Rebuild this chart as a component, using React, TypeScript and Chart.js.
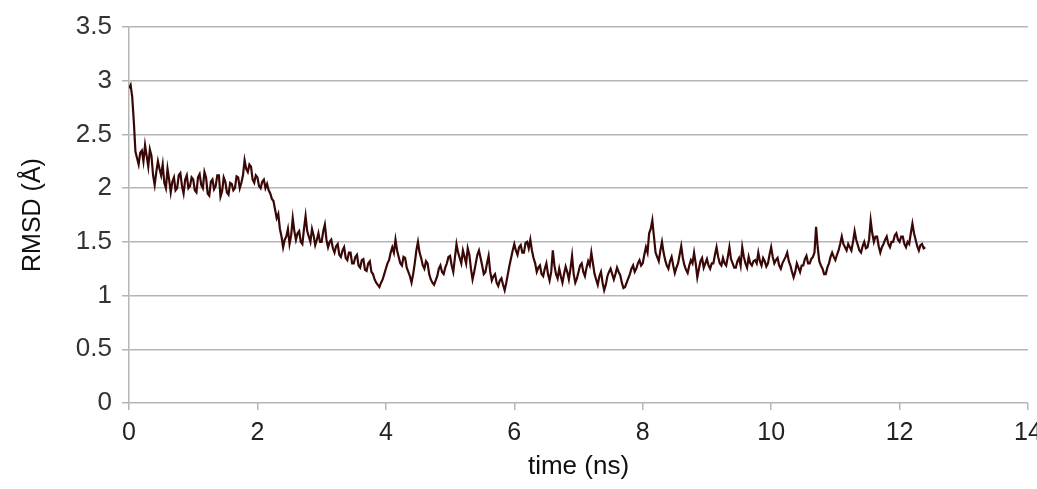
import React, { useEffect, useRef } from "react";
import { Chart, registerables } from "chart.js";

Chart.register(...registerables);

// sampling step of the trajectory (ns)
const timeStep = 0.025;

// RMSD (Å), 40 samples per ns; each chunk starts at the given time
const rmsd0to1 = [
  2.93, 2.96, 2.85, 2.62, 2.34, 2.28, 2.22, 2.33, 2.35, 2.25,
  2.40, 2.30, 2.20, 2.36, 2.30, 2.12, 2.03, 2.15, 2.25, 2.18,
  2.12, 2.22, 2.05, 2.00, 2.18, 2.08, 1.96, 2.06, 2.10, 1.98,
  2.00, 2.12, 2.14, 2.02, 1.95, 2.08, 2.12, 2.00, 2.02, 2.10,
];
const rmsd1to2 = [
  2.08, 1.98, 1.96, 2.10, 2.13, 2.03, 2.00, 2.15, 2.10, 1.95,
  1.93, 2.06, 2.08, 1.99, 2.02, 2.12, 2.12, 1.92, 1.97, 2.10,
  2.06, 1.96, 1.94, 2.05, 2.04, 1.98, 2.00, 2.11, 2.10, 2.00,
  2.05, 2.12, 2.26, 2.18, 2.15, 2.22, 2.20, 2.08, 2.05, 2.12,
];
const rmsd2to3 = [
  2.10, 2.02, 2.00, 2.06, 2.08, 2.00, 2.04, 1.98, 1.95, 1.90,
  1.88, 1.80, 1.72, 1.76, 1.62, 1.55, 1.45, 1.52, 1.55, 1.62,
  1.48, 1.56, 1.72, 1.60, 1.52, 1.58, 1.60, 1.50, 1.48, 1.62,
  1.74, 1.60, 1.55, 1.50, 1.62, 1.56, 1.47, 1.52, 1.58, 1.50,
];
const rmsd3to4 = [
  1.50, 1.60, 1.66, 1.52, 1.45, 1.50, 1.52, 1.44, 1.40, 1.46,
  1.48, 1.38, 1.36, 1.42, 1.45, 1.35, 1.33, 1.40, 1.40, 1.30,
  1.30, 1.36, 1.38, 1.28, 1.26, 1.33, 1.34, 1.24, 1.23, 1.30,
  1.32, 1.22, 1.20, 1.15, 1.12, 1.10, 1.08, 1.12, 1.15, 1.20,
];
const rmsd4to5 = [
  1.25, 1.30, 1.33, 1.40, 1.45, 1.40, 1.52, 1.42, 1.36, 1.30,
  1.28, 1.36, 1.35, 1.26, 1.22, 1.18, 1.12, 1.20, 1.30, 1.42,
  1.50, 1.40, 1.35, 1.28, 1.25, 1.32, 1.30, 1.20, 1.15, 1.12,
  1.10, 1.14, 1.18, 1.25, 1.28, 1.22, 1.20, 1.26, 1.30, 1.36,
];
const rmsd5to6 = [
  1.37, 1.28, 1.22, 1.35, 1.48, 1.40, 1.35, 1.30, 1.42, 1.36,
  1.30, 1.44, 1.38, 1.25, 1.15, 1.22, 1.30, 1.38, 1.42, 1.35,
  1.28, 1.20, 1.22, 1.30, 1.37, 1.22, 1.14, 1.18, 1.20, 1.12,
  1.09, 1.14, 1.16, 1.10, 1.05, 1.12, 1.20, 1.28, 1.35, 1.42,
];
const rmsd6to7 = [
  1.48, 1.42, 1.38, 1.45, 1.47, 1.40, 1.40, 1.49, 1.50, 1.44,
  1.52, 1.42, 1.35, 1.30, 1.22, 1.26, 1.28, 1.20, 1.18, 1.25,
  1.30, 1.20, 1.14, 1.22, 1.42, 1.28, 1.20, 1.16, 1.25, 1.18,
  1.12, 1.20, 1.27, 1.22, 1.15, 1.25, 1.37, 1.20, 1.12, 1.16,
];
const rmsd7to8 = [
  1.22, 1.28, 1.30, 1.22, 1.18, 1.26, 1.32, 1.28, 1.40, 1.30,
  1.20, 1.15, 1.10, 1.18, 1.22, 1.12, 1.05, 1.10, 1.18, 1.22,
  1.25, 1.20, 1.15, 1.20, 1.26, 1.22, 1.19, 1.12, 1.07, 1.08,
  1.12, 1.16, 1.20, 1.25, 1.28, 1.22, 1.25, 1.30, 1.33, 1.28,
];
const rmsd8to9 = [
  1.30, 1.38, 1.45, 1.40, 1.58, 1.62, 1.70, 1.55, 1.40, 1.36,
  1.32, 1.42, 1.50, 1.40, 1.33, 1.28, 1.25, 1.32, 1.36, 1.28,
  1.21, 1.26, 1.30, 1.38, 1.46, 1.35, 1.28, 1.24, 1.21, 1.28,
  1.33, 1.30, 1.40, 1.30, 1.17, 1.25, 1.32, 1.35, 1.26, 1.30,
];
const rmsd9to10 = [
  1.34, 1.28, 1.25, 1.30, 1.30, 1.38, 1.45, 1.36, 1.30, 1.28,
  1.35, 1.30, 1.28, 1.36, 1.45, 1.34, 1.30, 1.26, 1.26, 1.32,
  1.35, 1.28, 1.45, 1.36, 1.30, 1.26, 1.36, 1.30, 1.28, 1.32,
  1.33, 1.30, 1.40, 1.32, 1.28, 1.35, 1.32, 1.27, 1.30, 1.38,
];
const rmsd10to11 = [
  1.45, 1.36, 1.30, 1.33, 1.35, 1.28, 1.25, 1.30, 1.33, 1.36,
  1.40, 1.32, 1.28, 1.22, 1.17, 1.22, 1.30, 1.26, 1.22, 1.28,
  1.28, 1.34, 1.37, 1.30, 1.30, 1.34, 1.36, 1.40, 1.64, 1.45,
  1.32, 1.28, 1.25, 1.20, 1.20, 1.26, 1.30, 1.36, 1.40, 1.36,
];
const rmsd11to12 = [
  1.33, 1.38, 1.42, 1.48, 1.55, 1.48, 1.45, 1.42, 1.48, 1.45,
  1.42, 1.50, 1.60, 1.52, 1.47, 1.42, 1.40, 1.46, 1.50, 1.44,
  1.45, 1.52, 1.70, 1.58, 1.50, 1.55, 1.55, 1.46, 1.40, 1.45,
  1.48, 1.52, 1.55, 1.48, 1.45, 1.50, 1.50, 1.56, 1.58, 1.52,
];
const rmsd12toEnd = [
  1.50, 1.55, 1.55, 1.48, 1.45, 1.50, 1.48, 1.58, 1.67, 1.58,
  1.52, 1.46, 1.42, 1.47, 1.48, 1.44, 1.45,
];

const chunks: [number, number[]][] = [
  [0, rmsd0to1], [1, rmsd1to2], [2, rmsd2to3], [3, rmsd3to4], [4, rmsd4to5],
  [5, rmsd5to6], [6, rmsd6to7], [7, rmsd7to8], [8, rmsd8to9], [9, rmsd9to10],
  [10, rmsd10to11], [11, rmsd11to12], [12, rmsd12toEnd],
];

const xTitle = "time (ns)";
const yTitle = "RMSD (Å)";

export default function App() {
  const ref = useRef<HTMLCanvasElement | null>(null);

  useEffect(() => {
    if (!ref.current) return;
    const points: { x: number; y: number }[] = [];
    chunks.forEach(([start, vals]) => {
      vals.forEach((v, j) => points.push({ x: +(start + j * timeStep).toFixed(3), y: v }));
    });
    const font = "'Liberation Sans', Arial, sans-serif";
    const chart = new Chart(ref.current, {
      type: "line",
      data: {
        datasets: [
          {
            data: points,
            borderColor: "#3a0707",
            borderWidth: 2.2,
            pointRadius: 0,
            tension: 0,
          },
        ],
      },
      options: {
        animation: false,
        responsive: false,
        maintainAspectRatio: false,
        layout: { padding: { left: 0, right: 9, top: 27, bottom: 0 } },
        plugins: { legend: { display: false }, tooltip: { enabled: false } },
        scales: {
          x: {
            type: "linear",
            min: 0,
            max: 14,
            ticks: { stepSize: 2, color: "#222", font: { family: font, size: 25 }, padding: 8, maxRotation: 0 },
            grid: { drawOnChartArea: false, drawTicks: true, tickLength: 7, color: "#b5b5b5", lineWidth: 1.5 },
            border: { display: false },
            title: { display: true, text: xTitle, color: "#111", font: { family: font, size: 26 }, padding: { top: 2, bottom: 7 } },
            afterFit: (s: any) => { s.height = 86; s.paddingLeft = 0; s.paddingRight = 0; },
          },
          y: {
            min: 0,
            max: 3.5,
            ticks: {
              stepSize: 0.5,
              color: "#333",
              font: { family: font, size: 26 },
              padding: 10,
              callback: (v: any) => String(Number(v)),
            },
            grid: { color: "#b5b5b5", lineWidth: 1.5, tickLength: 7 },
            border: { display: true, color: "#b5b5b5", width: 1.5 },
            title: { display: true, text: yTitle, color: "#111", font: { family: font, size: 25 }, padding: { top: 18, bottom: 0 } },
            afterFit: (s: any) => { s.width = 129; s.paddingTop = 0; s.paddingBottom = 0; },
          },
        },
      },
    });
    return () => chart.destroy();
  }, []);

  return (
    <div style={{ position: "fixed", left: 0, top: 0, width: 1037, height: 489, background: "#fff" }}>
      <canvas ref={ref} width={1037} height={489} style={{ display: "block" }} />
    </div>
  );
}
